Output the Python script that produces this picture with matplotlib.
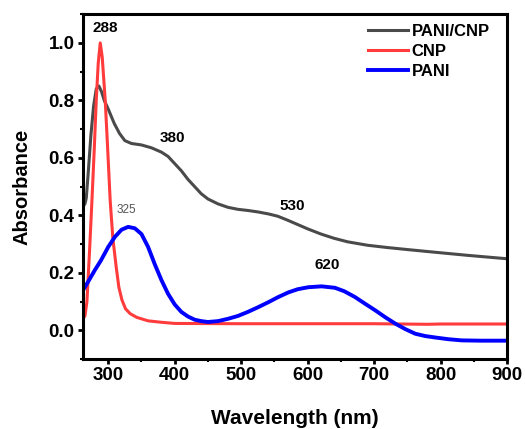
import matplotlib
matplotlib.use('Agg')
import matplotlib.pyplot as plt
from matplotlib.ticker import MultipleLocator

plt.rcParams['font.family'] = ['Liberation Sans', 'DejaVu Sans']
plt.rcParams['font.weight'] = 'bold'

# PANI/CNP composite
wl_comp = [262, 265, 267, 270, 274, 278, 282, 286, 290, 294, 300, 309, 317, 325, 335,
           350, 365, 380, 390, 400, 410, 420, 430, 440, 450, 465, 480, 495, 510, 525,
           541, 555, 570, 585, 600, 620, 640, 660, 690, 720, 750, 790, 840, 870, 900]
abs_comp = [0.43, 0.44, 0.46, 0.55, 0.68, 0.78, 0.84, 0.85, 0.83, 0.80, 0.77, 0.72, 0.685,
            0.66, 0.65, 0.645, 0.635, 0.62, 0.605, 0.58, 0.555, 0.525, 0.50, 0.475, 0.457,
            0.44, 0.428, 0.421, 0.417, 0.412, 0.405, 0.397, 0.383, 0.368, 0.353, 0.335,
            0.32, 0.308, 0.296, 0.288, 0.281, 0.272, 0.261, 0.255, 0.249]

# CNP
wl_cnp = [262, 265, 268, 272, 275.5, 279, 282, 285, 288, 291, 295.5, 299, 303, 307, 312,
          316, 320.6, 326, 333, 343, 360, 380, 400, 500, 700, 780, 800, 900]
abs_cnp = [0.04, 0.05, 0.10, 0.28, 0.45, 0.63, 0.80, 0.93, 1.0, 0.95, 0.80, 0.64, 0.45,
           0.32, 0.22, 0.15, 0.106, 0.075, 0.058, 0.045, 0.033, 0.028, 0.024, 0.023,
           0.023, 0.021, 0.022, 0.022]

# PANI
wl_pani = [262, 270, 280, 289, 300, 310, 320, 330, 340, 350, 360, 370, 380, 390, 400,
           410, 420, 430, 440, 450, 465, 480, 495, 510, 525, 541, 555, 571, 585, 601,
           621, 641, 655, 671, 686, 702, 717, 732, 747, 762, 777, 792, 812, 832, 860, 900]
abs_pani = [0.139, 0.17, 0.21, 0.243, 0.29, 0.325, 0.35, 0.36, 0.355, 0.335, 0.29, 0.23,
            0.175, 0.127, 0.09, 0.064, 0.048, 0.037, 0.032, 0.029, 0.032, 0.04, 0.05,
            0.064, 0.08, 0.098, 0.115, 0.132, 0.143, 0.15, 0.153, 0.148, 0.136, 0.116,
            0.093, 0.069, 0.045, 0.023, 0.004, -0.012, -0.02, -0.025, -0.031, -0.035,
            -0.036, -0.036]

fig = plt.figure(figsize=(5.25, 4.29), dpi=100)
ax = fig.add_axes([0.158, 0.163, 0.808, 0.804])

ax.plot(wl_comp, abs_comp, color='#4a4a4a', lw=2.2, label='PANI/CNP')
ax.plot(wl_cnp, abs_cnp, color='#ff3b3b', lw=2.2, label='CNP')
ax.plot(wl_pani, abs_pani, color='#0000ff', lw=2.8, label='PANI')

ax.set_xlim(262, 900)
ax.set_ylim(-0.1, 1.1)
ax.xaxis.set_major_locator(MultipleLocator(100))
ax.xaxis.set_minor_locator(MultipleLocator(50))
ax.yaxis.set_major_locator(MultipleLocator(0.2))
ax.yaxis.set_minor_locator(MultipleLocator(0.1))
ax.tick_params(which='major', direction='out', length=3.5, width=2, labelsize=13.5, pad=2.5)
ax.tick_params(which='minor', direction='out', length=2, width=1.5)
for s in ax.spines.values():
    s.set_linewidth(2.2)

ax.set_xlabel('Wavelength (nm)', fontsize=15, fontweight='bold', labelpad=18)
ax.set_ylabel('Absorbance', fontsize=14.5, fontweight='bold', labelpad=12)

# peak labels
ax.text(295.5, 1.053, '288', fontsize=11, fontweight='bold', ha='center', va='center')
ax.text(397, 0.668, '380', fontsize=11, fontweight='bold', ha='center', va='center')
ax.text(577, 0.434, '530', fontsize=11, fontweight='bold', ha='center', va='center')
ax.text(629, 0.228, '620', fontsize=11, fontweight='bold', ha='center', va='center')
ax.text(327, 0.417, '325', fontsize=8.5, fontweight='normal', color='#555555',
        ha='center', va='center')

ax.legend(loc='upper left', bbox_to_anchor=(0.673, 0.972), frameon=False,
          borderaxespad=0, borderpad=0, handlelength=2.4, handletextpad=0.2,
          labelspacing=0.3, fontsize=12)

fig.savefig('out.png', dpi=100)
